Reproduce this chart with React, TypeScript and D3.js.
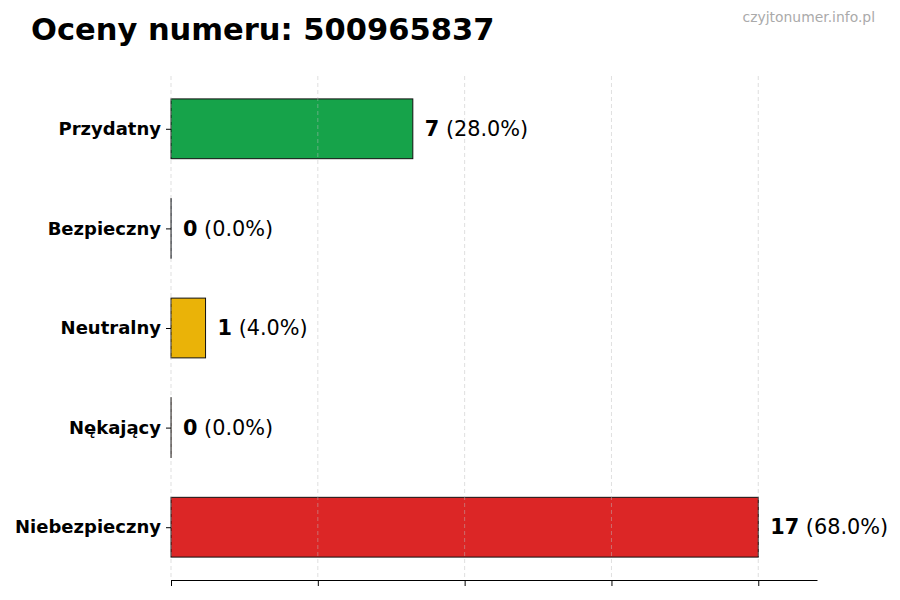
import React, { useEffect, useRef } from 'react';
import * as d3 from 'd3';

const categories = ['Przydatny', 'Bezpieczny', 'Neutralny', 'Nękający', 'Niebezpieczny'];
const counts = [7, 0, 1, 0, 17];
const barColors = ['#16a34a', '#2563eb', '#eab308', '#f97316', '#dc2626'];
const title = 'Oceny numeru: 500965837';
const watermark = 'czyjtonumer.info.pl';

const App = () => {
    const svgRef = useRef<SVGSVGElement>(null);

    useEffect(() => {
        if (!svgRef.current) return;
        const width = 900;
        const height = 600;
        d3.select(svgRef.current).selectAll('*').remove();

        const svg = d3.select(svgRef.current)
            .attr('width', width)
            .attr('height', height)
            .style('font-family', '"DejaVu Sans", sans-serif')
            .style('display', 'block');

        const margin = { top: 76, right: 83, bottom: 20, left: 171 };
        const innerWidth = width - margin.left - margin.right;
        const innerHeight = height - margin.top - margin.bottom;

        const total = d3.sum(counts);
        const maxVal = d3.max(counts) || 1;

        const x = d3.scaleLinear().domain([0, maxVal * 1.1]).range([0, innerWidth]);
        const y = d3.scaleLinear().domain([-0.53, categories.length - 0.47]).range([0, innerHeight]);
        const barH = y(0.6) - y(0);

        const g = svg.append('g').attr('transform', `translate(${margin.left},${margin.top})`);

        // Bars (zero values still show their edge line)
        g.selectAll('rect.bar')
            .data(categories)
            .join('rect')
            .attr('class', 'bar')
            .attr('x', 0)
            .attr('y', (d, i) => y(i) - barH / 2)
            .attr('width', (d, i) => Math.max(x(counts[i]), 0.1))
            .attr('height', barH)
            .attr('fill', (d, i) => barColors[i])
            .attr('stroke', '#111')
            .attr('stroke-width', 1);

        // Grid lines (drawn over bars)
        const ticks = d3.range(0, 5).map(i => (maxVal / 4) * i);
        g.selectAll('line.grid')
            .data(ticks)
            .join('line')
            .attr('class', 'grid')
            .attr('x1', d => x(d))
            .attr('x2', d => x(d))
            .attr('y1', 0)
            .attr('y2', innerHeight)
            .attr('stroke', '#bbb')
            .attr('stroke-opacity', 0.6)
            .attr('stroke-dasharray', '4,3')
            .attr('stroke-width', 0.8);

        // Value labels
        const labels = g.selectAll('text.val')
            .data(categories)
            .join('text')
            .attr('class', 'val')
            .attr('x', (d, i) => x(counts[i]) + 12)
            .attr('y', (d, i) => y(i))
            .attr('dy', '0.35em')
            .attr('font-size', 20.8)
            .attr('fill', '#000');
        labels.append('tspan')
            .attr('font-weight', 'bold')
            .text((d, i) => `${counts[i]}`);
        labels.append('tspan')
            .text((d, i) => ` (${((counts[i] / total) * 100).toFixed(1)}%)`);

        // Y axis
        const yAxis = g.append('g')
            .call(d3.axisLeft(y).tickValues(d3.range(categories.length)).tickFormat((d: any) => categories[d]).tickSize(5).tickPadding(5));
        yAxis.select('.domain').remove();
        yAxis.selectAll('.tick line').attr('stroke', '#000');
        yAxis.selectAll('.tick text')
            .attr('font-size', 18)
            .attr('font-weight', 'bold')
            .attr('fill', '#000')
            .style('font-family', '"DejaVu Sans", sans-serif');

        // X axis (no labels)
        const xAxis = g.append('g')
            .attr('transform', `translate(0,${innerHeight})`)
            .call(d3.axisBottom(x).tickValues(ticks).tickFormat(() => '').tickSize(6).tickSizeOuter(0));
        xAxis.select('.domain').attr('stroke', '#000').attr('stroke-width', 1);
        xAxis.selectAll('.tick line').attr('stroke', '#000');

        // Title
        svg.append('text')
            .attr('x', 31)
            .attr('y', 40)
            .attr('font-size', 30.5)
            .attr('font-weight', 'bold')
            .attr('fill', '#000')
            .text(title);

        // Watermark
        svg.append('text')
            .attr('x', 875)
            .attr('y', 22)
            .attr('text-anchor', 'end')
            .attr('font-size', 13.9)
            .attr('fill', '#aaa')
            .text(watermark);
    }, []);

    return (
        <div style={{ position: 'absolute', left: 0, top: 0 }}>
            <svg ref={svgRef} />
        </div>
    );
};

export default App;
